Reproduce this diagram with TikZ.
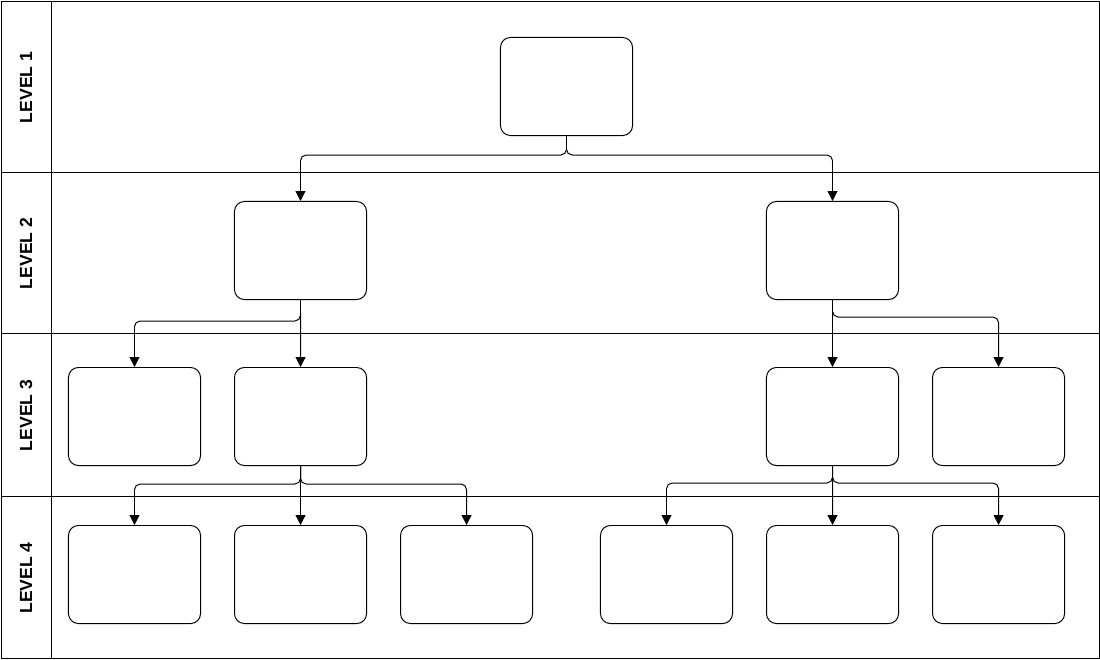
\documentclass[tikz,border=0pt]{standalone}
\usepackage{fontspec}
\setmainfont{Liberation Sans}
\usetikzlibrary{arrows.meta, positioning}
\tikzset{
  lane/.style={draw, line width=0.7pt},
  box/.style={draw, line width=0.7pt, rounded corners=7pt,
              minimum width=3.3cm, minimum height=2.45cm, inner sep=0pt},
  lanelabel/.style={rotate=90, font=\fontsize{12.5}{14}\selectfont\bfseries},
  conn/.style={-{Triangle[length=7pt,width=7pt]}, line width=0.7pt, rounded corners=4pt},
}

\begin{document}
\begin{tikzpicture}[x=0.025cm, y=-0.025cm]
  \useasboundingbox (0,0) rectangle (1100,659);
  % swimlanes
  \draw[lane] (1,1) rectangle (1099,658);
  \draw[lane] (51,1) -- (51,658);
  \foreach \y in {172,333,496} \draw[lane] (1,\y) -- (1099,\y);
  \node[lanelabel] (lv1) at (26,87.5) {LEVEL 1};
  \node[lanelabel] (lv2) at (26,253.5) {LEVEL 2};
  \node[lanelabel] (lv3) at (26,415.5) {LEVEL 3};
  \node[lanelabel] (lv4) at (26,578) {LEVEL 4};
  % boxes
  \node[box] (top) at (566.5,86.5) {};
  \node[box] (l2a) at (300.5,250.5) {};
  \node[box] (l2b) at (832.5,250.5) {};
  \node[box] (l3a) at (134.5,416.5) {};
  \node[box, right=0.825cm of l3a] (l3b) {};
  \node[box] (l3c) at (832.5,416.5) {};
  \node[box, right=0.825cm of l3c] (l3d) {};
  \node[box] (l4a) at (134.5,574.5) {};
  \node[box, right=0.825cm of l4a] (l4b) {};
  \node[box, right=0.825cm of l4b] (l4c) {};
  \node[box] (l4d) at (666.5,574.5) {};
  \node[box, right=0.825cm of l4d] (l4e) {};
  \node[box, right=0.825cm of l4e] (l4f) {};
  % connectors
  \draw[conn] (top.south) -- ++(0,19) -| (l2a.north);
  \draw[conn] (top.south) -- ++(0,19) -| (l2b.north);
  \draw[conn] (l2a.south) -- ++(0,21) -| (l3a.north);
  \draw[conn] (l2a.south) -- (l3b.north);
  \draw[conn] (l2b.south) -- (l3c.north);
  \draw[conn] (l2b.south) -- ++(0,17) -| (l3d.north);
  \draw[conn] (l3b.south) -- ++(0,18) -| (l4a.north);
  \draw[conn] (l3b.south) -- (l4b.north);
  \draw[conn] (l3b.south) -- ++(0,18) -| (l4c.north);
  \draw[conn] (l3c.south) -- ++(0,17) -| (l4d.north);
  \draw[conn] (l3c.south) -- (l4e.north);
  \draw[conn] (l3c.south) -- ++(0,17) -| (l4f.north);
\end{tikzpicture}
\end{document}
